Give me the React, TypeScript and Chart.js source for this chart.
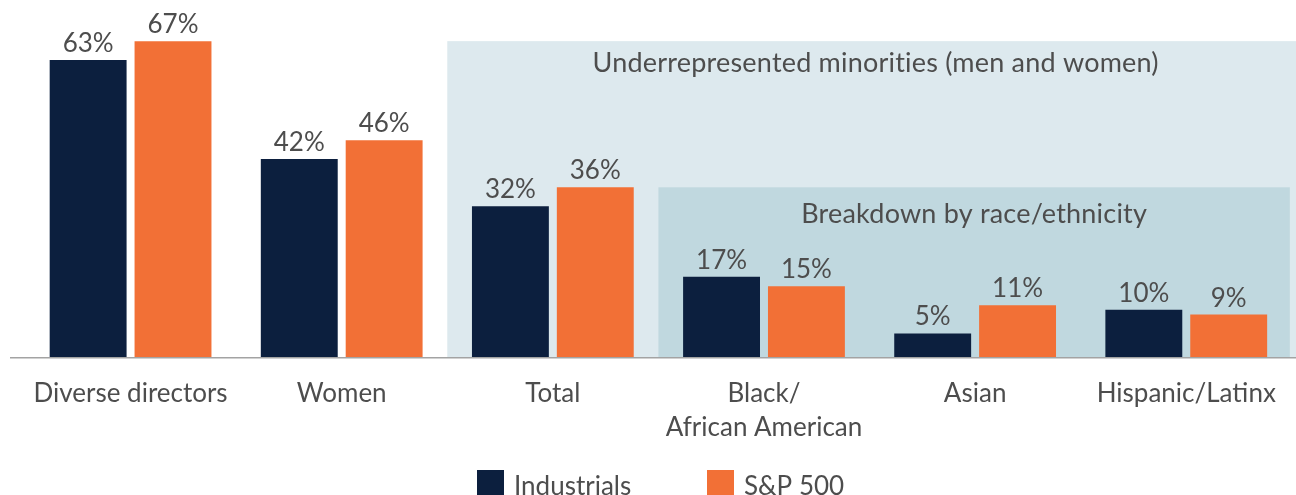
import React, { useEffect, useRef } from "react";
import { Chart, registerables } from "chart.js";

Chart.register(...registerables);

const categories: (string | string[])[] = [
  "Diverse directors",
  "Women",
  "Total",
  ["Black/", "African American"],
  "Asian",
  "Hispanic/Latinx",
];
const industrials = [63, 42, 32, 17, 5, 10];
const sp500 = [67, 46, 36, 15, 11, 9];
const seriesNames = ["Industrials", "S&P 500"];
const seriesColors = ["#0c1f3e", "#f27036"];

const groupTitle = "Underrepresented minorities (men and women)";
const breakdownTitle = "Breakdown by race/ethnicity";
// panels: first category index covered, top value (data units)
const groupPanel = { from: 2, top: 67 };
const breakdownPanel = { from: 3, top: 36 };

const FONT = "Lato, 'Open Sans', sans-serif";
const TEXT = "#4d4d4d";

const decorPlugin = {
  id: "decor",
  beforeDatasetsDraw(chart: any) {
    const { ctx, scales, chartArea, width } = chart;
    const x = scales.x;
    const y = scales.y;
    const base = y.getPixelForValue(0);
    const half = (i: number) => (x.getPixelForValue(i - 1) + x.getPixelForValue(i)) / 2;
    ctx.save();
    // light panel
    const gx = half(groupPanel.from);
    const gy = y.getPixelForValue(groupPanel.top);
    ctx.fillStyle = "#dde9ee";
    ctx.fillRect(gx, gy, width - gx, base - gy);
    // darker panel
    const bx = half(breakdownPanel.from);
    const by = y.getPixelForValue(breakdownPanel.top);
    ctx.fillStyle = "#c0d8df";
    ctx.fillRect(bx, by, chartArea.right - 2 - bx, base - by);
    // titles
    ctx.fillStyle = TEXT;
    ctx.font = `27px ${FONT}`;
    try {
      (ctx as any).textRendering = "optimizeSpeed";
      (ctx as any).letterSpacing = "0.2px";
    } catch (e) {}
    ctx.textAlign = "center";
    ctx.textBaseline = "alphabetic";
    ctx.fillText(groupTitle, (gx + width) / 2 + 4, gy + 31);
    ctx.fillText(breakdownTitle, (bx + chartArea.right - 2) / 2, by + 36);
    ctx.restore();
  },
  afterDatasetsDraw(chart: any) {
    const { ctx, scales, width } = chart;
    const y = scales.y;
    const base = y.getPixelForValue(0);
    ctx.save();
    // value labels
    ctx.fillStyle = TEXT;
    ctx.font = `26px ${FONT}`;
    ctx.textAlign = "center";
    ctx.textBaseline = "alphabetic";
    chart.data.datasets.forEach((ds: any, di: number) => {
      const meta = chart.getDatasetMeta(di);
      meta.data.forEach((bar: any, i: number) => {
        ctx.fillText(`${ds.data[i]}%`, bar.x, bar.y - 8);
      });
    });
    // axis line
    ctx.strokeStyle = "#a3a3a3";
    ctx.lineWidth = 1.5;
    ctx.beginPath();
    ctx.moveTo(10, base + 0.75);
    ctx.lineTo(width, base + 0.75);
    ctx.stroke();
    // legend
    const items = [477, 707];
    items.forEach((lx, i) => {
      ctx.fillStyle = seriesColors[i];
      ctx.fillRect(lx, 470, 27, 27);
      ctx.fillStyle = TEXT;
      ctx.textAlign = "left";
      ctx.fillText(seriesNames[i], lx + 37, 495);
    });
    ctx.restore();
  },
};

export default function App() {
  const ref = useRef<HTMLCanvasElement>(null);
  useEffect(() => {
    if (!ref.current) return;
    const chart = new Chart(ref.current, {
      type: "bar",
      data: {
        labels: categories as any,
        datasets: [
          { label: seriesNames[0], data: industrials, backgroundColor: seriesColors[0] },
          { label: seriesNames[1], data: sp500, backgroundColor: seriesColors[1] },
        ],
      },
      options: {
        animation: false,
        responsive: false,
        maintainAspectRatio: false,
        layout: { padding: { left: 25, right: 2, top: 27, bottom: 0 } },
        datasets: {
          bar: { categoryPercentage: 0.804, barPercentage: 0.906 },
        } as any,
        plugins: { legend: { display: false }, tooltip: { enabled: false } },
        scales: {
          x: {
            grid: { display: false, drawTicks: false },
            border: { display: false },
            ticks: {
              color: TEXT,
              font: { family: FONT, size: 26, lineHeight: 1.3 },
              padding: 20,
              maxRotation: 0,
              autoSkip: false,
            },
            afterFit: (s: any) => {
              s.height = 138;
            },
          },
          y: {
            display: false,
            min: 0,
            max: 70,
          },
        },
      },
      plugins: [decorPlugin],
    });
    return () => chart.destroy();
  }, []);
  return (
    <div style={{ position: "absolute", left: 0, top: 0, width: 1296, height: 495 }}>
      <canvas ref={ref} width={1296} height={495} style={{ width: 1296, height: 495 }} />
    </div>
  );
}
